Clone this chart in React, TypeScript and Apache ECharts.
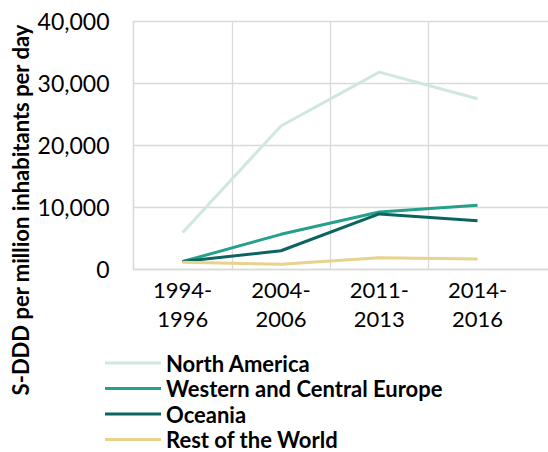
import React, { useEffect, useRef } from "react";
import * as echarts from "echarts";

const categories = ["1994-\n1996", "2004-\n2006", "2011-\n2013", "2014-\n2016", ""];
const northAmerica = [5900, 23100, 31800, 27500];
const westernCentralEurope = [1200, 5600, 9200, 10300];
const oceania = [1200, 2950, 8900, 7800];
const restOfWorld = [1100, 760, 1830, 1600];
const yTicks = { min: 0, max: 40000, interval: 10000 };
const seriesNames = ["North America", "Western and Central Europe", "Oceania", "Rest of the World"];

const FONT = "Lato";

export default function App() {
  const ref = useRef<HTMLDivElement>(null);
  useEffect(() => {
    if (!ref.current) return;
    const chart = echarts.init(ref.current, null, { renderer: "svg" });
    const mk = (name: string, data: number[], color: string) => ({
      name,
      type: "line",
      data,
      symbol: "none",
      lineStyle: { color, width: 3 },
      itemStyle: { color },
    });
    const legends = seriesNames.map((n, i) => ({
      orient: "vertical",
      left: 105,
      top: 352 + i * 25.5,
      padding: 0,
      itemWidth: 56,
      itemHeight: 3,
      icon: "rect",
      textStyle: {
        color: "#000",
        fontFamily: FONT,
        fontWeight: "bold",
        fontSize: 22,
        lineHeight: 22,
      },
      data: [n],
    }));
    chart.setOption({
      animation: false,
      backgroundColor: "#ffffff",
      grid: { left: 133.5, top: 21.3, bottom: 183, right: 15, containLabel: false },
      xAxis: {
        type: "category",
        data: categories,
        boundaryGap: true,
        axisLine: { show: true, lineStyle: { color: "#d9d9d9", width: 1.3 } },
        axisTick: { show: false },
        splitLine: {
          show: true,
          interval: (i: number) => i !== 4,
          lineStyle: { color: "#d9d9d9", width: 1.3 },
        },
        axisLabel: {
          color: "#000",
          fontFamily: FONT,
          fontSize: 22,
          lineHeight: 29,
          margin: 6,
          interval: 0,
        },
      },
      yAxis: {
        type: "value",
        min: yTicks.min,
        max: yTicks.max,
        interval: yTicks.interval,
        axisLine: { show: true, lineStyle: { color: "#d9d9d9", width: 1.3 } },
        axisTick: { show: false },
        splitLine: { show: true, lineStyle: { color: "#d9d9d9", width: 1.3 } },
        axisLabel: {
          color: "#000",
          fontFamily: FONT,
          fontSize: 23,
          margin: 24,
          formatter: (v: number) => v.toLocaleString("en-US"),
        },
      },
      legend: legends,
      graphic: [
        {
          type: "text",
          x: 20,
          y: 210,
          rotation: Math.PI / 2,
          style: {
            text: "S-DDD per million inhabitants per day",
            fill: "#000",
            font: `bold 22px ${FONT}`,
            textAlign: "center",
            textVerticalAlign: "middle",
          },
        },
      ],
      series: [
        mk(seriesNames[0], northAmerica, "#cfe7dd"),
        mk(seriesNames[1], westernCentralEurope, "#26a08a"),
        mk(seriesNames[2], oceania, "#0c6460"),
        mk(seriesNames[3], restOfWorld, "#e8d28c"),
      ],
    });
    return () => chart.dispose();
  }, []);
  return (
    <div style={{ position: "absolute", left: 0, top: 0, width: 548, height: 452, overflow: "hidden" }}>
      <div ref={ref} style={{ width: 640, height: 452 }} />
    </div>
  );
}
